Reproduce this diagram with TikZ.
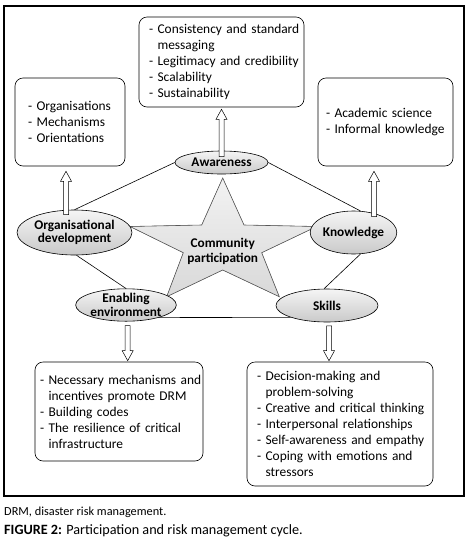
\documentclass[tikz,border=0pt]{standalone}
\usepackage{fontspec}
\setmainfont{Carlito}
\usetikzlibrary{shapes.geometric,calc}
\newcommand\uparr[2]{\draw[blk] let \p1=#1, \p2=#2 in
  (\x1-2.5pt,\y1) -- (\x1-2.5pt,\y2-10pt) -- (\x1-5.5pt,\y2-10pt) -- (\x1,\y2)
  -- (\x1+5.5pt,\y2-10pt) -- (\x1+2.5pt,\y2-10pt) -- (\x1+2.5pt,\y1) -- cycle;}
\newcommand\dnarr[2]{\draw[blk] let \p1=#1, \p2=#2 in
  (\x1-2.5pt,\y1) -- (\x1-2.5pt,\y2+10pt) -- (\x1-5.5pt,\y2+10pt) -- (\x1,\y2)
  -- (\x1+5.5pt,\y2+10pt) -- (\x1+2.5pt,\y2+10pt) -- (\x1+2.5pt,\y1) -- cycle;}
\begin{document}
\begin{tikzpicture}[x=1pt,y=-1pt,
  box/.style={draw, rounded corners=8pt, line width=0.6pt, align=left, inner ysep=0pt,
    font=\fontsize{13.4}{16}\selectfont},
  ell/.style={draw, ellipse, inner sep=0pt, line width=0.6pt, top color=gray!8, bottom color=gray!42,
    align=center, font=\fontsize{13.3}{13.5}\selectfont\bfseries},
  link/.style={line width=0.6pt},
  blk/.style={line width=0.5pt, fill=white},
  ind/.style={}]
\useasboundingbox (0,0) rectangle (475,539);
\fill[white] (0,0) rectangle (475,539);
\draw[line width=1.1pt] (4,6) rectangle (464,496);

% boxes
\node[box, minimum width=165pt, minimum height=90pt, inner xsep=10pt, text width=145pt] (tb) at (221.5,62)
  {\mbox{- Consistency and standard}\\\mbox{\hphantom{- }messaging}\\\mbox{- Legitimacy and credibility}\\\mbox{- Scalability}\\\mbox{- Sustainability}};
\node[box, minimum width=110pt, minimum height=88pt, inner xsep=13pt, text width=84pt] (lb) at (70,122)
  {\mbox{- Organisations}\\\mbox{- Mechanisms}\\\mbox{- Orientations}};
\node[box, minimum width=135pt, minimum height=88pt, inner xsep=8pt, text width=119pt] (rb) at (385.5,122)
  {\mbox{- Academic science}\\\mbox{- Informal knowledge}};
\node[box, minimum width=168pt, minimum height=99pt, inner xsep=5pt, text width=158pt] (bl) at (119,411.5)
  {\mbox{- Necessary mechanisms and}\\\mbox{\hphantom{- }incentives promote DRM}\\\mbox{- Building codes}\\\mbox{- The resilience of critical}\\\mbox{\hphantom{- }infrastructure}};
\node[box, minimum width=186pt, minimum height=124pt, inner xsep=10pt, text width=166pt] (br) at (340,424)
  {\mbox{- Decision-making and}\\\mbox{\hphantom{- }problem-solving}\\\mbox{- Creative and critical thinking}\\\mbox{- Interpersonal relationships}\\\mbox{- Self-awareness and empathy}\\\mbox{- Coping with emotions and}\\\mbox{\hphantom{- }stressors}};

% star
\filldraw[draw=gray!70!black, line width=0.6pt, top color=gray!10, bottom color=gray!30]
  (222.7,178) -- (244,225) -- (316.7,226.5) -- (261.7,252.7) -- (279.3,296.7) -- (222.7,270)
  -- (166.7,296.7) -- (183.3,252.7) -- (130,226.5) -- (201.7,225) -- cycle;
\node[font=\fontsize{13.3}{15}\selectfont\bfseries, align=center] (cp) at (222.7,251.5) {Community\\participation};

% ellipses
\node[ell, minimum width=93pt, minimum height=23pt] (aw) at (221.5,162.5) {Awareness};
\node[ell, minimum width=115pt, minimum height=45pt] (org) at (74.5,232.5) {Organisational\\development};
\node[ell, minimum width=77pt, minimum height=43pt] (kn) at (353.5,232.5) {Knowledge};
\node[ell, minimum width=94pt, minimum height=32pt] (en) at (126,305) {Enabling\\environment};
\node[ell, minimum width=102pt, minimum height=33pt] (sk) at (327,305.5) {Skills};

% pentagon links
\draw[link] (aw.west) -- (org.north);
\draw[link] (aw.east) -- (kn.72);
\draw[link] (org.-85) -- (en.north);
\draw[link] (kn.-72) -- (sk.100);
\draw[link] (en.-21) -- (sk.-162.6);

% block arrows
\uparr{($(aw.north)+(0,6)$)}{($(tb.south)+(0,2)$)}
\uparr{($(org.north)+(-8.5,5)$)}{($(lb.south)+(0,5)$)}
\uparr{($(kn.north)+(20.5,6)$)}{($(rb.south)+(0,5)$)}
\dnarr{($(en.south)+(1.7,4)$)}{($(bl.north)+(0,-1)$)}
\dnarr{($(sk.south)+(2,3.5)$)}{($(br.north)+(0,-1)$)}

% captions
\node[anchor=west, inner sep=0pt, font=\fontsize{12.3}{14}\selectfont] (note) at (4,512) {DRM, disaster risk management.};
\node[anchor=west, inner sep=0pt, font=\fontsize{14.2}{16}\selectfont] (cap) at (4,531) {\textbf{FIGURE 2:} Participation and risk management cycle.};
\end{tikzpicture}
\end{document}
